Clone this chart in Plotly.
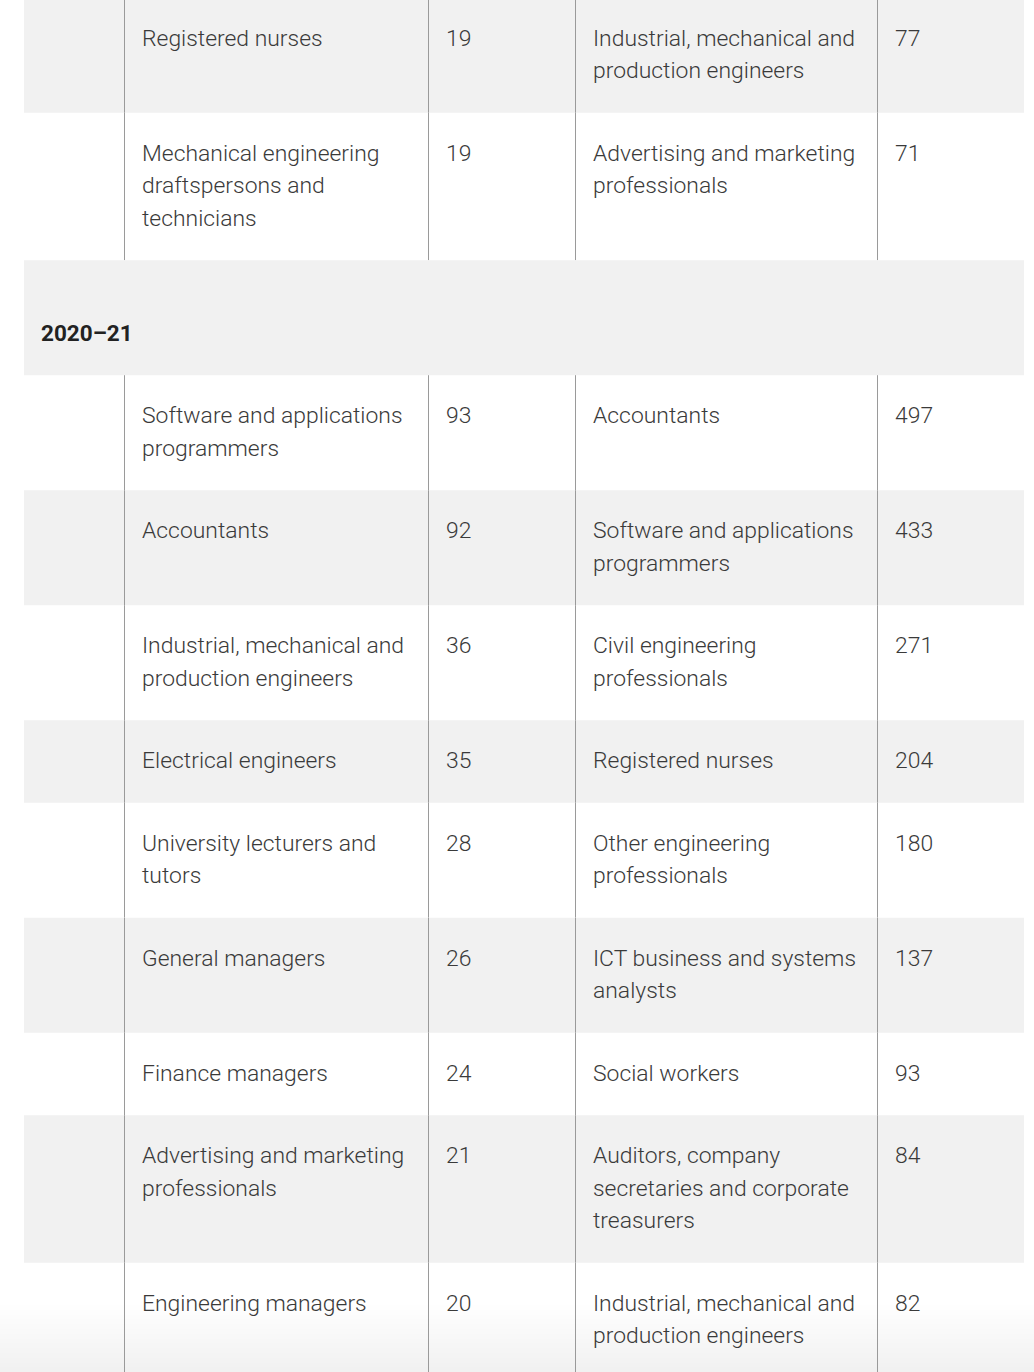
import plotly.graph_objects as go

# ---- data (line breaks as wrapped in the reference) ----
prev_left_occ = ["Registered nurses",
                 "Mechanical engineering\ndraftspersons and\ntechnicians"]
prev_left_val = [19, 19]
prev_right_occ = ["Industrial, mechanical and\nproduction engineers",
                  "Advertising and marketing\nprofessionals"]
prev_right_val = [77, 71]

section_label = "2020–21"
left_occ = ["Software and applications\nprogrammers",
            "Accountants",
            "Industrial, mechanical and\nproduction engineers",
            "Electrical engineers",
            "University lecturers and\ntutors",
            "General managers",
            "Finance managers",
            "Advertising and marketing\nprofessionals",
            "Engineering managers"]
left_val = [93, 92, 36, 35, 28, 26, 24, 21, 20]
right_occ = ["Accountants",
             "Software and applications\nprogrammers",
             "Civil engineering\nprofessionals",
             "Registered nurses",
             "Other engineering\nprofessionals",
             "ICT business and systems\nanalysts",
             "Social workers",
             "Auditors, company\nsecretaries and corporate\ntreasurers",
             "Industrial, mechanical and\nproduction engineers"]
right_val = [497, 433, 271, 204, 180, 137, 93, 84, 82]

# ---- layout constants ----
W, H = 1034, 1372
TABLE_L, TABLE_R = 24, 1024
COL_X = [124, 428, 575, 877]          # column boundaries
PAD_X = 18
LINE_H = 32.5
PAD_TOP = 25
ROW_PAD = 50
GREY = "#f1f1f1"
TEXT = "#3a3a3a"
FONT = "Roboto"
FS = 22.9

rows = []
for lo, lv, ro, rv in zip(prev_left_occ, prev_left_val, prev_right_occ, prev_right_val):
    rows.append(("data", lo, lv, ro, rv))
rows.append(("section", section_label))
for lo, lv, ro, rv in zip(left_occ, left_val, right_occ, right_val):
    rows.append(("data", lo, lv, ro, rv))

shapes = []
annotations = []

def add_text(x, y, txt, bold=False, color=TEXT, size=FS):
    annotations.append(dict(
        x=x, y=y, xref="x", yref="y", text=txt, showarrow=False,
        xanchor="left", yanchor="middle", align="left",
        font=dict(family=FONT, size=size, color=color, weight=700 if bold else 300),
        borderpad=0,
    ))

top = -2.3
for i, row in enumerate(rows):
    if row[0] == "section":
        h = 115
    else:
        nlines = max(len(row[1].split("\n")), len(row[3].split("\n")))
        h = ROW_PAD + LINE_H * nlines
    bottom = top + h
    if i % 2 == 0:
        shapes.append(dict(type="rect", xref="x", yref="y", x0=TABLE_L, x1=TABLE_R,
                           y0=top, y1=bottom, fillcolor=GREY, line=dict(width=0),
                           layer="below"))
    if row[0] == "section":
        add_text(TABLE_L + 16, top + 72.5, "<b>" + row[1] + "</b>", bold=True,
                 color="#222222", size=22.5)
    else:
        for cx in COL_X:
            shapes.append(dict(type="line", xref="x", yref="y", x0=cx + 0.5, x1=cx + 0.5,
                               y0=top, y1=bottom, line=dict(color="#9a9a9a", width=1),
                               layer="below"))
        cells = [(COL_X[0], row[1]), (COL_X[1], str(row[2])),
                 (COL_X[2], row[3]), (COL_X[3], str(row[4]))]
        for cx, txt in cells:
            for k, ln in enumerate(txt.split("\n")):
                add_text(cx + PAD_X - 1, top + PAD_TOP + LINE_H / 2 + k * LINE_H - 0.5, ln)
    top = bottom

# bottom fade
n_fade = 14
for k in range(n_fade):
    y0 = 1305 + k * (67 / n_fade)
    shapes.append(dict(type="rect", xref="x", yref="y", x0=0, x1=W, y0=y0, y1=H,
                       fillcolor="rgba(200,200,200,0.012)", line=dict(width=0),
                       layer="above"))

fig = go.Figure()
fig.add_trace(go.Scatter(x=[0, W], y=[0, H], mode="markers",
                         marker=dict(opacity=0), hoverinfo="skip", showlegend=False))
fig.update_layout(
    width=W, height=H, margin=dict(l=0, r=0, t=0, b=0),
    paper_bgcolor="white", plot_bgcolor="white",
    xaxis=dict(range=[0, W], visible=False, fixedrange=True),
    yaxis=dict(range=[H, 0], visible=False, fixedrange=True),
    shapes=shapes, annotations=annotations, showlegend=False,
)
fig.write_html("out.html", config={"displayModeBar": False},
               post_script="document.body.style.margin='0';document.body.style.overflow='hidden';")
